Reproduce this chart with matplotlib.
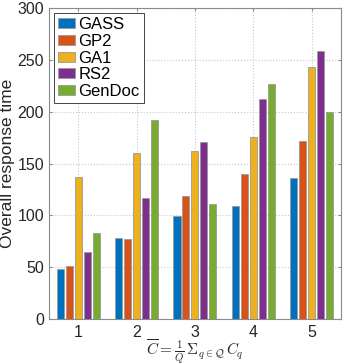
import matplotlib
matplotlib.use('Agg')
import matplotlib.pyplot as plt
import numpy as np

plt.rcParams['font.family'] = ['Liberation Sans', 'DejaVu Sans']
plt.rcParams['mathtext.fontset'] = 'cm'

# Data
groups = [1, 2, 3, 4, 5]
series_names = ['GASS', 'GP2', 'GA1', 'RS2', 'GenDoc']
gass = [48, 78, 99, 109, 136]
gp2 = [51, 77, 119, 140, 172]
ga1 = [137, 160, 162, 176, 243]
rs2 = [65, 117, 171, 212, 259]
gendoc = [83, 192, 111, 227, 200]

colors = ['#0072BD', '#D95319', '#EDB120', '#7E2F8E', '#77AC30']
series = [gass, gp2, ga1, rs2, gendoc]

fig = plt.figure(figsize=(3.46, 3.64), dpi=100)
ax = fig.add_axes([0.1416, 0.1236, 0.8439, 0.8544])

x = np.array(groups, dtype=float)
step = 0.154
width = 0.12
for i, (vals, name, col) in enumerate(zip(series, series_names, colors)):
    ax.bar(x + (i - 2) * step, vals, width, color=col, label=name,
           edgecolor='#999999', linewidth=0.6, zorder=3)

ax.set_xlim(0.5, 5.5)
ax.set_ylim(0, 300)
ax.set_xticks(groups)
ax.set_yticks(range(0, 301, 50))
ax.grid(True, linestyle=':', color='#c8c8c8', linewidth=0.8, zorder=0)
for spine in ax.spines.values():
    spine.set_color('#8a8a8a')
    spine.set_linewidth(0.8)
ax.tick_params(colors='#8a8a8a', labelsize=11.5, length=2.5, direction='in',
               top=True, right=True, labelcolor='#262626')
ax.tick_params(axis='x', pad=4)

ax.set_ylabel('Overall response time', fontsize=12.5, color='#262626', labelpad=2)
# text-style sum: mathtext's \sum is display size, so use \Sigma instead
fig.text(0.5639, 1 - 355 / 364,
         r'$\overline{C} = \frac{1}{Q}\,\Sigma_{q\in\mathcal{Q}}\, C_q$',
         fontsize=11, color='#262626', ha='center', va='baseline')

leg = ax.legend(loc='upper left', fontsize=12, handlelength=1.0,
                handleheight=0.55, handletextpad=0.2, borderpad=0.25,
                labelspacing=0.1, fancybox=False, framealpha=1,
                borderaxespad=0.3)
leg.get_frame().set_edgecolor('#262626')
leg.get_frame().set_linewidth(0.6)

fig.savefig('out.png', dpi=100)
